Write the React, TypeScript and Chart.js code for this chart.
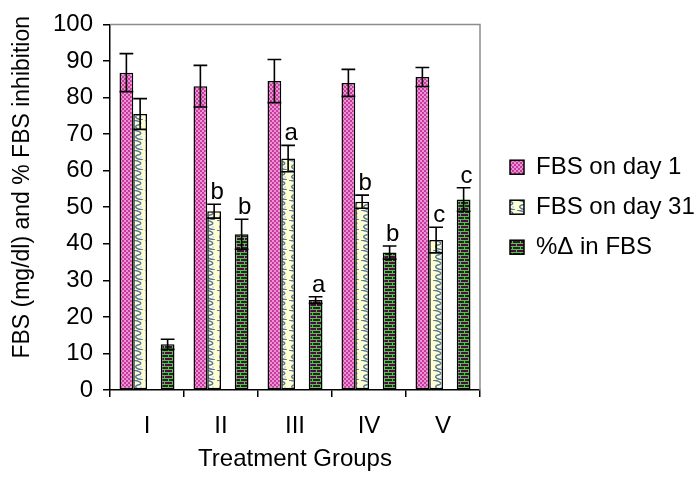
import React, { useEffect, useRef } from 'react';
import { Chart, registerables } from 'chart.js';

Chart.register(...registerables);

const categories = ['I', 'II', 'III', 'IV', 'V'];
const seriesNames = ['FBS on day 1', 'FBS on day 31', '%\u0394 in FBS'];
const fbsDay1 = [86.8, 83.1, 84.5, 84.0, 85.6];
const fbsDay1Err = [5.2, 5.7, 5.9, 3.7, 2.6];
const fbsDay31 = [75.5, 48.9, 63.3, 51.5, 41.0];
const fbsDay31Err = [4.2, 1.9, 3.6, 1.8, 3.5];
const pctChange = [12.5, 42.6, 24.6, 37.6, 52.1];
const pctChangeErr = [1.4, 4.1, 0.9, 1.8, 3.2];
const day31Letters = ['', 'b', 'a', 'b', 'c'];
const pctLetters = ['', 'b', 'a', 'b', 'c'];
const yMin = 0;
const yMax = 100;
const yStep = 10;
const xTitle = 'Treatment Groups';
const yTitle = 'FBS (mg/dl) and % FBS inhibition';

const FONT = '"Liberation Sans", Arial, sans-serif';
const FS = 24;

function makePattern(kind: string): CanvasPattern | string {
  const c = document.createElement('canvas');
  const g = c.getContext('2d')!;
  if (kind === 'pink') {
    c.width = 4; c.height = 4;
    g.fillStyle = '#c93a9c';
    g.fillRect(0, 0, 4, 4);
    g.fillStyle = '#ea92d6';
    g.fillRect(0, 0, 2, 2);
    g.fillRect(2, 2, 2, 2);
  } else if (kind === 'light') {
    c.width = 12; c.height = 10;
    g.fillStyle = '#ffffd2';
    g.fillRect(0, 0, 12, 10);
    g.strokeStyle = '#56789a';
    g.lineWidth = 1.4;
    g.beginPath();
    g.moveTo(1, 0);
    g.bezierCurveTo(9, 1, 11, 4, 6, 5);
    g.bezierCurveTo(2, 6, 3, 9, 11, 10);
    g.stroke();
    g.fillStyle = '#cfe6ee';
    g.fillRect(8, 6, 2, 2);
  } else {
    c.width = 8; c.height = 6;
    g.fillStyle = '#4a0d3e';
    g.fillRect(0, 0, 8, 6);
    g.fillStyle = '#3fcf3f';
    g.fillRect(0, 0, 8, 1);
    g.fillRect(0, 0, 1, 3);
    g.fillRect(0, 3, 8, 1);
    g.fillRect(4, 3, 1, 3);
  }
  return g.createPattern(c, 'repeat') || '#888';
}

const annotPlugin = {
  id: 'annot',
  afterDatasetsDraw(chart: any) {
    const { ctx, chartArea, scales } = chart;
    const y = scales.y;
    // frame (top and right)
    ctx.save();
    ctx.strokeStyle = '#8c8c8c';
    ctx.lineWidth = 1.5;
    ctx.beginPath();
    ctx.moveTo(chartArea.left, chartArea.top);
    ctx.lineTo(chartArea.right, chartArea.top);
    ctx.lineTo(chartArea.right, chartArea.bottom);
    ctx.stroke();
    ctx.restore();

    chart.data.datasets.forEach((ds: any, di: number) => {
      if (!ds.errors) return;
      const meta = chart.getDatasetMeta(di);
      meta.data.forEach((bar: any, i: number) => {
        const v = ds.data[i];
        if (v == null) return;
        const e = ds.errors[i];
        const { x, width } = bar.getProps(['x', 'width'], true);
        const hi = y.getPixelForValue(v + e);
        const lo = y.getPixelForValue(v - e);
        const hw = width / 2;
        ctx.save();
        ctx.strokeStyle = '#000';
        ctx.lineWidth = 1.6;
        ctx.beginPath();
        ctx.moveTo(x, hi); ctx.lineTo(x, lo);
        ctx.moveTo(x - hw, hi); ctx.lineTo(x + hw, hi);
        ctx.moveTo(x - hw, lo); ctx.lineTo(x + hw, lo);
        ctx.stroke();
        const letter = ds.letters ? ds.letters[i] : '';
        if (letter) {
          ctx.fillStyle = '#000';
          ctx.font = FS + 'px ' + FONT;
          ctx.textAlign = 'center';
          ctx.textBaseline = 'alphabetic';
          ctx.fillText(letter, x + 3, hi - 5);
        }
        ctx.restore();
      });
    });

    // legend
    const items = chart.data.datasets.filter((d: any) => d.inLegend);
    const cy = (chartArea.top + chartArea.bottom) / 2;
    const gap = 40;
    const sx = chartArea.right + 30;
    items.forEach((d: any, k: number) => {
      const yy = cy + (k - (items.length - 1) / 2) * gap;
      ctx.save();
      ctx.fillStyle = d.backgroundColor;
      ctx.fillRect(sx, yy - 7, 14, 14);
      ctx.strokeStyle = '#000';
      ctx.lineWidth = 1.5;
      ctx.strokeRect(sx, yy - 7, 14, 14);
      ctx.fillStyle = '#000';
      ctx.font = FS + 'px ' + FONT;
      ctx.textAlign = 'left';
      ctx.textBaseline = 'middle';
      ctx.fillText(d.label, sx + 26, yy);
      ctx.restore();
    });

    // y-axis title
    ctx.save();
    ctx.translate(23, 16);
    ctx.rotate(-Math.PI / 2);
    ctx.fillStyle = '#000';
    ctx.font = '23px ' + FONT;
    ctx.textAlign = 'right';
    ctx.textBaseline = 'middle';
    ctx.fillText(yTitle, 0, 0);
    ctx.restore();
  },
};

export default function App() {
  const ref = useRef<HTMLCanvasElement>(null);
  useEffect(() => {
    document.body.style.margin = '0';
    const pink = makePattern('pink');
    const light = makePattern('light');
    const dark = makePattern('dark');
    const chart = new Chart(ref.current!, {
      type: 'bar',
      data: {
        labels: categories,
        datasets: [
          { label: seriesNames[0], data: fbsDay1, backgroundColor: pink, errors: fbsDay1Err, inLegend: true } as any,
          { label: seriesNames[1], data: fbsDay31, backgroundColor: light, errors: fbsDay31Err, letters: day31Letters, inLegend: true } as any,
          { label: '', data: categories.map(() => null), backgroundColor: 'rgba(0,0,0,0)' } as any,
          { label: seriesNames[2], data: pctChange, backgroundColor: dark, errors: pctChangeErr, letters: pctLetters, inLegend: true } as any,
        ].map((d: any) => ({
          ...d,
          borderColor: '#000',
          borderWidth: 1.5,
          borderSkipped: false,
          categoryPercentage: 0.743,
          barPercentage: 1,
        })),
      },
      options: {
        responsive: false,
        animation: false,
        layout: { padding: { left: 9, right: 220, top: 24, bottom: 8 } },
        plugins: {
          legend: { display: false },
          tooltip: { enabled: false },
        },
        scales: {
          x: {
            grid: { display: true, drawOnChartArea: false, drawTicks: true, tickLength: 7, color: '#000', lineWidth: 1.5, offset: true },
            border: { display: true, color: '#000', width: 1.5 },
            ticks: { color: '#000', font: { family: FONT, size: FS }, padding: 15, maxRotation: 0, autoSkip: false },
            title: { display: true, text: xTitle, color: '#000', font: { family: FONT, size: FS }, padding: { top: 0, bottom: 0 } },
            afterFit: (s: any) => { s.height = 84; },
          },
          y: {
            min: yMin,
            max: yMax,
            grid: { display: true, drawOnChartArea: false, drawTicks: true, tickLength: 7, color: '#000', lineWidth: 1.5 },
            border: { display: true, color: '#000', width: 1.5 },
            ticks: { stepSize: yStep, color: '#000', font: { family: FONT, size: FS }, padding: 10 },
            title: { display: false },
            afterFit: (s: any) => { s.width = 101; },
          },
        },
      },
      plugins: [annotPlugin],
    });
    return () => chart.destroy();
  }, []);
  return (
    <div style={{ width: 700, height: 482, position: 'relative', background: '#fff' }}>
      <canvas ref={ref} width={700} height={482} style={{ width: 700, height: 482, display: 'block' }} />
    </div>
  );
}
